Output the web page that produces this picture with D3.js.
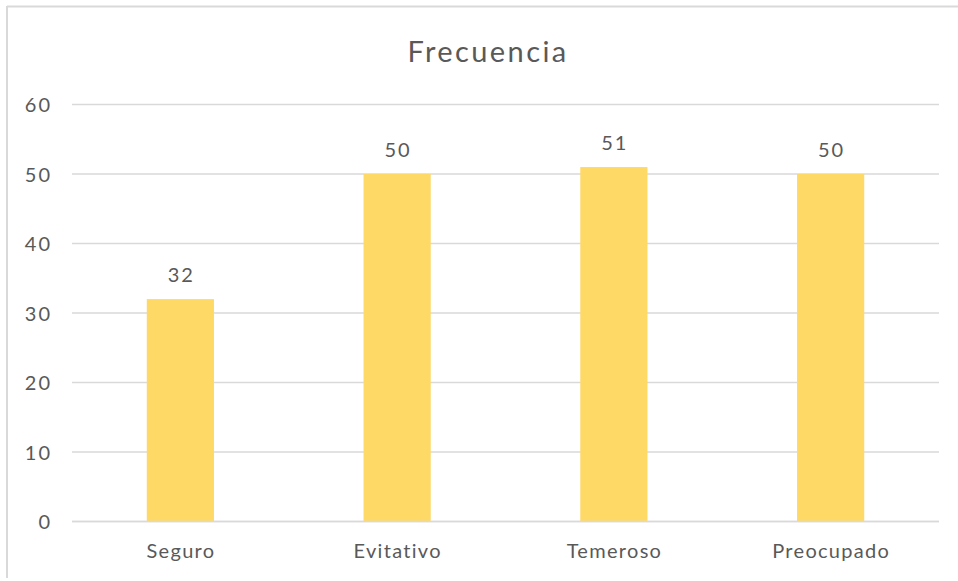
<!DOCTYPE html>
<html>
<head>
<meta charset="utf-8">
<script src="https://cdn.jsdelivr.net/npm/d3@7"></script>
<style>
html,body{margin:0;padding:0;background:#fff;}
svg{display:block;}
text{font-family:Lato,"Open Sans",sans-serif;fill:#595959;}
</style>
</head>
<body>
<svg id="chart" width="958" height="581"></svg>
<script>
const categories = ["Seguro", "Evitativo", "Temeroso", "Preocupado"];
const values = [32, 50, 51, 50];
const yTicks = [0, 10, 20, 30, 40, 50, 60];
const title = "Frecuencia";

(function () {
const svg = d3.select("#chart");
const W = 958, H = 581;
const mLeft = 72, mRight = 939, mTop = 104.5, mBottom = 521.5;
const FONT = 'Lato,"Open Sans",sans-serif';
const FS = 20;
const LS = "1.3px";

// chart border (top & left visible)
svg.append("line").attr("x1", 7).attr("x2", W).attr("y1", 6.5).attr("y2", 6.5)
  .attr("stroke", "#d9d9d9").attr("stroke-width", 2);
svg.append("line").attr("x1", 7).attr("x2", 7).attr("y1", 6).attr("y2", 578)
  .attr("stroke", "#d9d9d9").attr("stroke-width", 2);

const x = d3.scaleBand().domain(categories).range([mLeft, mRight])
  .paddingInner(0.69).paddingOuter(0.345);
const y = d3.scaleLinear().domain([0, 60]).range([mBottom, mTop]);

// gridlines
svg.append("g").selectAll("line").data(yTicks).join("line")
  .attr("x1", mLeft).attr("x2", mRight)
  .attr("y1", d => y(d)).attr("y2", d => y(d))
  .attr("stroke", "#d9d9d9").attr("stroke-width", 1.5);

// y axis labels
const yAxis = d3.axisLeft(y).tickValues(yTicks).tickSize(0).tickPadding(0);
const gy = svg.append("g").attr("transform", `translate(52,0)`).call(yAxis);
gy.select(".domain").remove();
gy.selectAll("text").attr("font-size", FS).attr("fill", "#595959")
  .style("font-family", FONT).style("letter-spacing", "2px").attr("dy", "0.35em");

// bars
svg.append("g").selectAll("rect").data(values).join("rect")
  .attr("x", (d, i) => x(categories[i]))
  .attr("width", x.bandwidth())
  .attr("y", d => y(d))
  .attr("height", d => y(0) - y(d))
  .attr("fill", "#ffd966");

// redraw baseline above bars
svg.append("line").attr("x1", mLeft).attr("x2", mRight).attr("y1", y(0)).attr("y2", y(0))
  .attr("stroke", "#d9d9d9").attr("stroke-width", 1.5);

// value labels
svg.append("g").selectAll("text").data(values).join("text")
  .attr("x", (d, i) => x(categories[i]) + x.bandwidth() / 2 + 1)
  .attr("y", d => y(d) - 17.5)
  .attr("text-anchor", "middle").attr("font-size", FS)
  .style("font-family", FONT).style("letter-spacing", "2px")
  .text(d => d);

// x axis labels
const xAxis = d3.axisBottom(x).tickSize(0).tickPadding(0);
const gx = svg.append("g").attr("transform", `translate(0,${mBottom + 22})`).call(xAxis);
gx.select(".domain").remove();
gx.selectAll("text").attr("font-size", FS).attr("fill", "#595959")
  .style("font-family", FONT).style("letter-spacing", LS).attr("dx", "0.6px");

// title
svg.append("text").attr("x", 488).attr("y", 62).attr("text-anchor", "middle")
  .attr("font-size", 29).style("font-family", FONT).style("letter-spacing", "2.4px")
  .text(title);
})();
</script>
</body>
</html>
